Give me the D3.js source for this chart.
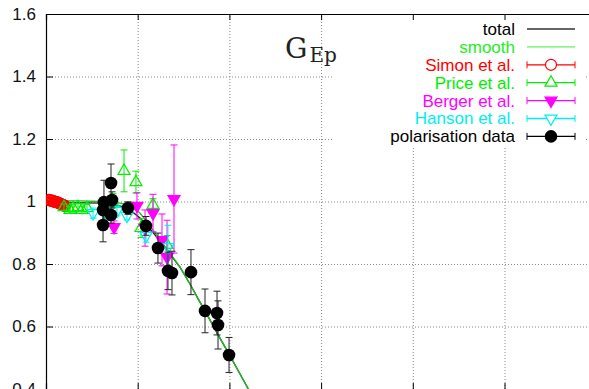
<!DOCTYPE html>
<html>
<head>
<meta charset="utf-8">
<script src="https://cdn.jsdelivr.net/npm/d3@7"></script>
<style>
  html, body { margin: 0; padding: 0; background: #fff; overflow: hidden; }
  svg { display: block; font-family: "Liberation Sans", Arial, sans-serif; }
</style>
</head>
<body>
<div id="chart"></div>
<script>
// x positions are in grid units (the x labels are cut off in the reference)
const yTicks = [0.4, 0.6, 0.8, 1.0, 1.2, 1.4, 1.6];
const xTicks = [1, 2, 3, 4, 5];

// curves
const totalX = [0, 0.589, 0.807, 0.916, 1.025, 1.134, 1.243, 1.352, 1.461, 1.570, 1.679, 1.788, 1.897, 2.007, 2.116, 2.225];
const totalY = [0.998, 0.995, 0.986, 0.973, 0.947, 0.912, 0.874, 0.832, 0.790, 0.736, 0.678, 0.621, 0.563, 0.506, 0.448, 0.390];
const smoothX = [0, 0.153, 0.371, 0.589, 0.807, 0.916, 1.025, 1.134, 1.243, 1.352, 1.461, 1.570, 1.679, 1.788, 1.897, 2.007, 2.116, 2.225];
const smoothY = [1.002, 1.002, 1.002, 1.0, 0.995, 0.986, 0.963, 0.922, 0.877, 0.835, 0.790, 0.736, 0.678, 0.621, 0.563, 0.506, 0.448, 0.390];

// data sets: x, value, error
const simonX = [0.033, 0.045, 0.055, 0.066, 0.076, 0.087, 0.098, 0.109, 0.120, 0.131, 0.142, 0.153, 0.164, 0.175, 0.185, 0.196, 0.207];
const simonY = [1.005, 1.004, 1.002, 1.003, 1.002, 1.0, 0.998, 0.999, 0.998, 0.996, 0.995, 0.993, 0.992, 0.990, 0.989, 0.987, 0.986];
const simonE = [0.008, 0.008, 0.008, 0.008, 0.008, 0.008, 0.008, 0.008, 0.008, 0.008, 0.008, 0.008, 0.008, 0.008, 0.008, 0.008, 0.008];

const priceX = [0.196, 0.262, 0.294, 0.349, 0.393, 0.447, 0.731, 0.851, 0.981, 1.036, 1.167, 1.320];
const priceY = [0.982, 0.973, 0.979, 0.982, 0.973, 0.979, 0.995, 1.098, 1.062, 0.915, 0.989, 0.861];
const priceE = [0.01, 0.01, 0.012, 0.012, 0.012, 0.012, 0.03, 0.067, 0.035, 0.03, 0.02, 0.03];

const bergerX = [0.742, 0.992, 1.080, 1.167, 1.265, 1.320, 1.396];
const bergerY = [0.918, 0.986, 0.915, 0.963, 0.877, 0.822, 1.008];
const bergerE = [0.02, 0.042, 0.058, 0.06, 0.083, 0.118, 0.173];

const hansonX = [0.513, 0.643, 0.774, 0.883, 1.091, 1.330];
const hansonY = [0.963, 0.966, 0.970, 0.954, 0.890, 0.854];
const hansonE = [0.016, 0.013, 0.016, 0.013, 0.02, 0.07];

const polX = [0.622, 0.622, 0.632, 0.709, 0.720, 0.709, 0.894, 1.091, 1.221, 1.330, 1.374, 1.581, 1.734, 1.865, 1.876, 1.996];
const polY = [0.925, 0.973, 0.998, 1.059, 1.005, 0.957, 0.979, 0.922, 0.851, 0.778, 0.771, 0.774, 0.650, 0.643, 0.605, 0.509];
const polE = [0.054, 0.038, 0.07, 0.061, 0.026, 0.026, 0.02, 0.03, 0.048, 0.06, 0.07, 0.072, 0.07, 0.07, 0.077, 0.056];

const W = 589, H = 389;
const mLeft = 46, mTop = 14, mBottom = 389;
const unit = 91.7;

const svg = d3.select('#chart').append('svg')
    .attr('width', W).attr('height', H);

const x = d3.scaleLinear().domain([0, 6]).range([mLeft, mLeft + 6 * unit]);
const y = d3.scaleLinear().domain([0.4, 1.6]).range([mBottom, mTop]);
const plotW = x(6) - mLeft;

svg.append('defs').append('clipPath').attr('id', 'clip')
    .append('rect').attr('x', mLeft).attr('y', mTop).attr('width', plotW).attr('height', mBottom - mTop);

// grid
const grid = svg.append('g').attr('class', 'grid');
grid.append('g')
    .attr('transform', `translate(${mLeft},0)`)
    .call(d3.axisLeft(y).tickValues(yTicks.slice(1, -1)).tickSize(-plotW).tickFormat(''));
grid.append('g')
    .attr('transform', `translate(0,${mBottom})`)
    .call(d3.axisBottom(x).tickValues(xTicks).tickSize(-(mBottom - mTop)).tickFormat(''));
grid.selectAll('.domain').remove();
grid.selectAll('line')
    .attr('stroke', '#888')
    .attr('stroke-width', 1)
    .attr('stroke-dasharray', '1,2');

// legend background hides the grid behind it
svg.append('rect')
    .attr('x', 333).attr('y', mTop + 1).attr('width', 253).attr('height', 132)
    .attr('fill', '#fff');

// title
const title = svg.append('text')
    .attr('x', 285).attr('y', 58)
    .attr('font-family', '"DejaVu Serif", serif')
    .attr('fill', '#222');
title.append('tspan').attr('font-size', 28).text('G');
title.append('tspan').attr('font-size', 20).attr('dx', 2).attr('dy', 4).text('Ep');

// frame and axes
const frame = svg.append('g');
frame.append('g')
    .attr('transform', `translate(${mLeft},0)`)
    .call(d3.axisLeft(y).tickValues(yTicks).tickSize(-7).tickPadding(10)
        .tickFormat(d => d3.format('~g')(d)))
    .call(g => g.selectAll('text').attr('font-size', 17).attr('fill', '#111'));
frame.append('g')
    .attr('transform', `translate(0,${mTop})`)
    .call(d3.axisTop(x).tickValues(xTicks).tickSize(-6).tickFormat(''));
frame.append('g')
    .attr('transform', `translate(0,${mBottom})`)
    .call(d3.axisBottom(x).tickValues(xTicks).tickSize(-6).tickFormat(''));
frame.selectAll('.domain').attr('stroke', '#000').attr('stroke-width', 1.2);
frame.selectAll('.tick line').attr('stroke', '#000');

const plot = svg.append('g').attr('clip-path', 'url(#clip)');

const line = d3.line().x(d => x(d[0])).y(d => y(d[1]));

plot.append('path')
    .datum(d3.zip(totalX, totalY))
    .attr('fill', 'none').attr('stroke', '#222').attr('stroke-width', 1.3)
    .attr('d', line);
plot.append('path')
    .datum(d3.zip(smoothX, smoothY))
    .attr('fill', 'none').attr('stroke', '#22bb22').attr('stroke-width', 1.3)
    .attr('d', line);

function errorBars(g, xs, ys, es, color) {
    const pts = d3.zip(xs, ys, es);
    const eb = g.append('g').attr('stroke', color).attr('stroke-width', 1);
    eb.selectAll('.bar').data(pts).enter().append('line')
        .attr('x1', d => x(d[0])).attr('x2', d => x(d[0]))
        .attr('y1', d => y(d[1] - d[2])).attr('y2', d => y(d[1] + d[2]));
    eb.selectAll('.capHi').data(pts).enter().append('line')
        .attr('x1', d => x(d[0]) - 3.5).attr('x2', d => x(d[0]) + 3.5)
        .attr('y1', d => y(d[1] + d[2])).attr('y2', d => y(d[1] + d[2]));
    eb.selectAll('.capLo').data(pts).enter().append('line')
        .attr('x1', d => x(d[0]) - 3.5).attr('x2', d => x(d[0]) + 3.5)
        .attr('y1', d => y(d[1] - d[2])).attr('y2', d => y(d[1] - d[2]));
    return pts;
}

const triUp = d3.symbol().type(d3.symbolTriangle).size(62)();

function drawMarks(g, pts, kind, color) {
    const sel = g.selectAll('.m').data(pts).enter();
    if (kind === 'circleOpen') {
        sel.append('circle').attr('cx', d => x(d[0])).attr('cy', d => y(d[1])).attr('r', 5.5)
            .attr('fill', 'none').attr('stroke', color).attr('stroke-width', 1.2);
    } else if (kind === 'circleFill') {
        sel.append('circle').attr('cx', d => x(d[0])).attr('cy', d => y(d[1])).attr('r', 6.3)
            .attr('fill', color);
    } else {
        const rot = kind === 'triUp' ? 0 : 180;
        sel.append('path').attr('d', triUp)
            .attr('transform', d => `translate(${x(d[0])},${y(d[1])}) rotate(${rot})`)
            .attr('fill', kind === 'triDownFill' ? color : 'none')
            .attr('stroke', color).attr('stroke-width', 1.2);
    }
}

const series = [
    { label: 'Simon et al.', xs: simonX, ys: simonY, es: simonE, color: '#ff0000', kind: 'circleOpen' },
    { label: 'Price et al.', xs: priceX, ys: priceY, es: priceE, color: '#00ee00', kind: 'triUp' },
    { label: 'Berger et al.', xs: bergerX, ys: bergerY, es: bergerE, color: '#ff00ff', kind: 'triDownFill' },
    { label: 'Hanson et al.', xs: hansonX, ys: hansonY, es: hansonE, color: '#00eeee', kind: 'triDown' },
    { label: 'polarisation data', xs: polX, ys: polY, es: polE, color: '#000000', kind: 'circleFill' }
];

series.forEach(s => {
    const g = plot.append('g');
    const pts = errorBars(g, s.xs, s.ys, s.es, s.kind === 'circleFill' ? '#222' : s.color);
    drawMarks(g, pts, s.kind, s.color);
});

// legend
const legend = svg.append('g').attr('font-size', 17);
const rowY = i => 29 + i * 17.9;
const entries = [
    { label: 'total', color: '#000', lineColor: '#333', kind: null },
    { label: 'smooth', color: '#22ee22', lineColor: '#66ee66', kind: null }
].concat(series.map(s => ({ label: s.label, color: s.color, lineColor: s.color, kind: s.kind })));

entries.forEach((e, i) => {
    const yy = rowY(i);
    legend.append('text')
        .attr('x', 515).attr('y', yy).attr('dy', '0.35em')
        .attr('text-anchor', 'end')
        .attr('fill', e.color)
        .text(e.label);
    legend.append('line')
        .attr('x1', 527).attr('x2', 575).attr('y1', yy).attr('y2', yy)
        .attr('stroke', e.lineColor).attr('stroke-width', 1.3);
    if (e.kind) {
        [527, 575].forEach(cx => legend.append('line')
            .attr('x1', cx).attr('x2', cx).attr('y1', yy - 3.5).attr('y2', yy + 3.5)
            .attr('stroke', e.lineColor));
        const g = legend.append('g');
        const lx = x.invert(551), ly = y.invert(yy);
        drawMarks(g, [[lx, ly]], e.kind, e.color);
        g.selectAll('path, circle').attr('fill', function () {
            return d3.select(this).attr('fill') === 'none' ? '#fff' : d3.select(this).attr('fill');
        });
    }
});
</script>
</body>
</html>
